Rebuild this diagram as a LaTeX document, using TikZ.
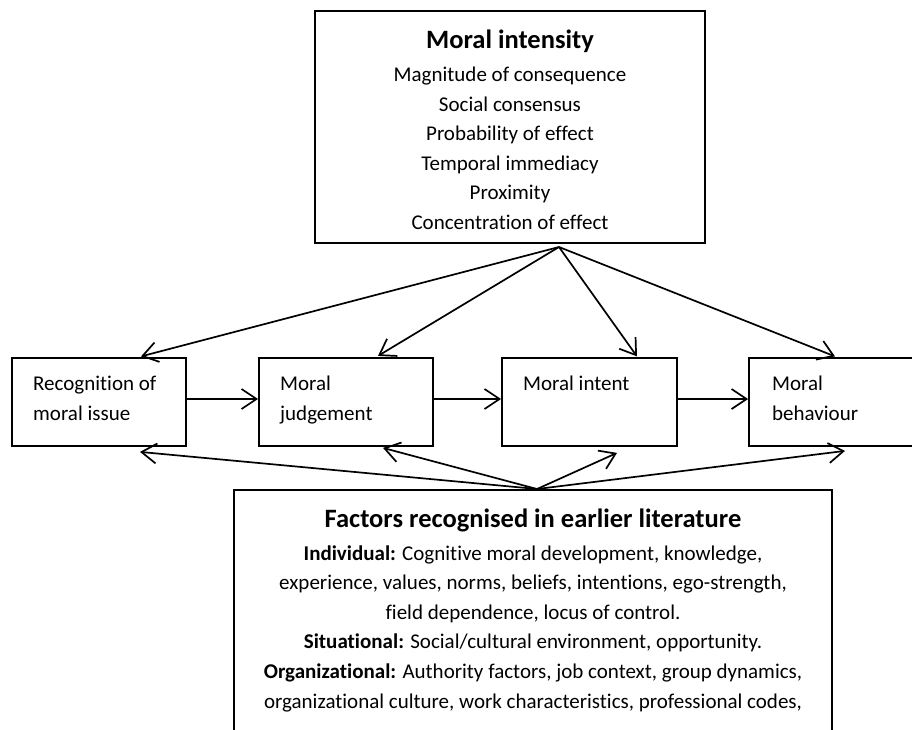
\documentclass[tikz,border=0pt]{standalone}
\usepackage{fontspec}
\setmainfont{Carlito}[Ligatures=NoCommon]
\usetikzlibrary{arrows.meta}
\tikzset{
  box/.style={draw, line width=1.8pt, inner sep=0pt, fill=none},
  arr/.style={line width=1.7pt, -{Straight Barb[length=15pt, width=20pt, line width=1.7pt]}},
  txt/.style={inner sep=0pt, anchor=base, font=\fontsize{21}{25}\selectfont},
  ltxt/.style={inner sep=0pt, anchor=base west, font=\fontsize{21}{25}\selectfont},
  ttl/.style={inner sep=0pt, anchor=base, font=\fontsize{26.5}{30}\selectfont\bfseries}
}
\begin{document}
\begin{tikzpicture}[x=1pt,y=-1pt]
\path[use as bounding box] (0,0) rectangle (912,729);
\clip (0,0) rectangle (912,729);
\fill[white] (0,0) rectangle (912,729);

% top box
\node[box, minimum width=390pt, minimum height=232pt] (mi) at (510,127) {};
\node[ttl] (mit) at (510,48) {Moral intensity};
\node[txt] (m1) at (510,81.5) {Magnitude of consequence};
\node[txt] (m2) at (510,111) {Social consensus};
\node[txt] (m3) at (510,140.5) {Probability of effect};
\node[txt] (m4) at (510,170) {Temporal immediacy};
\node[txt] (m5) at (510,199.5) {Proximity};
\node[txt] (m6) at (510,229) {Concentration of effect};

% row boxes
\node[box, minimum width=173.7pt, minimum height=87.4pt] (b1) at (99.2,402) {};
\node[box, minimum width=174pt, minimum height=87.4pt] (b2) at (346,402) {};
\node[box, minimum width=175pt, minimum height=87.4pt] (b3) at (589.5,402) {};
\node[box, minimum width=174pt, minimum height=87.4pt] (b4) at (836,402) {};
\node[ltxt] (b1a) at (33,390) {Recognition of};
\node[ltxt] (b1b) at (33,420) {moral issue};
\node[ltxt] (b2a) at (280,390) {Moral};
\node[ltxt] (b2b) at (280,420) {judgement};
\node[ltxt] (b3a) at (523,390) {Moral intent};
\node[ltxt] (b4a) at (772,390) {Moral};
\node[ltxt] (b4b) at (772,420) {behaviour};

% bottom box
\node[box, minimum width=598pt, minimum height=310pt] (fr) at (533,645) {};
\node[ttl] (frt) at (533,527) {Factors recognised in earlier literature};
\node[txt] (f1) at (533,560) {\textbf{Individual:} Cognitive moral development, knowledge,};
\node[txt] (f2) at (533,589.6) {experience, values, norms, beliefs, intentions, ego-strength,};
\node[txt] (f3) at (533,619.2) {field dependence, locus of control.};
\node[txt] (f4) at (533,648.8) {\textbf{Situational:} Social/cultural environment, opportunity.};
\node[txt] (f5) at (533,678.4) {\textbf{Organizational:} Authority factors, job context, group dynamics,};
\node[txt] (f6) at (533,708) {organizational culture, work characteristics, professional codes,};

% apexes
\coordinate (ta) at (559,247);
\coordinate (ba) at (537,489);

% arrows from moral intensity
\draw[arr] (ta) -- ([shift={(41.8pt,1pt)}]b1.north);
\draw[arr] (ta) -- ([shift={(32pt,1.5pt)}]b2.north);
\draw[arr] (ta) -- ([shift={(47.5pt,1pt)}]b3.north);
\draw[arr] (ta) -- ([shift={(-1pt,1pt)}]b4.north);

% arrows from factors
\draw[arr] (ba) -- ([shift={(40.8pt,-5.3pt)}]b1.south);
\draw[arr] (ba) -- ([shift={(37pt,-1.3pt)}]b2.south);
\draw[arr] (ba) -- ([shift={(27.5pt,-6.3pt)}]b3.south);
\draw[arr] (ba) -- ([shift={(9pt,-4.3pt)}]b4.south);

% horizontal arrows
\draw[arr] ([yshift=3pt]b1.east) -- ([yshift=3pt]b2.west);
\draw[arr] ([yshift=3pt]b2.east) -- ([yshift=3pt]b3.west);
\draw[arr] ([yshift=3pt]b3.east) -- ([yshift=3pt]b4.west);
\end{tikzpicture}
\end{document}
